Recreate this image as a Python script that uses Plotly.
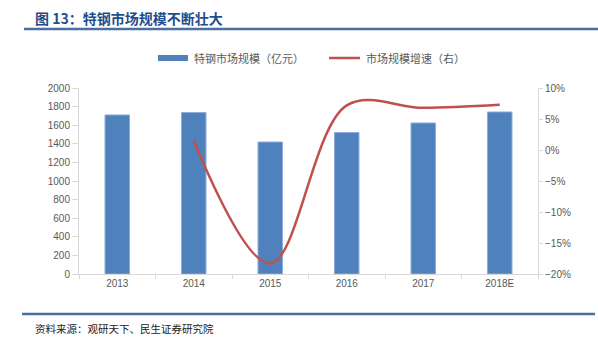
import plotly.graph_objects as go

categories = ["2013", "2014", "2015", "2016", "2017", "2018E"]
market_size = [1710, 1736, 1419, 1521, 1624, 1742]
growth_cats = ["2014", "2015", "2016", "2017", "2018E"]
growth = [0.015, -0.183, 0.072, 0.068, 0.073]

W, H = 598, 337
L, R, T, B = 79, 60, 88, 63
pw, ph = W - L - R, H - T - B

def px(x):
    return (x - L) / pw

def py(y):
    return (H - B - y) / ph

BLUE = "#4F81BD"
RED = "#C0504D"
GRAY = "#595959"
FONT = "Noto Sans CJK SC"

fig = go.Figure()
fig.add_trace(go.Bar(x=categories, y=market_size, marker=dict(color=BLUE, line=dict(color="#8EAADB", width=1)),
                     width=0.32, showlegend=False, yaxis="y"))
fig.add_trace(go.Scatter(x=growth_cats, y=growth, mode="lines", line=dict(color=RED, width=2.5, shape="spline", smoothing=1.0),
                         showlegend=False, yaxis="y2"))

shapes = [
    dict(type="line", xref="paper", yref="paper", x0=px(24), x1=px(598), y0=py(29), y1=py(29),
         line=dict(color="#4A6FA5", width=2.5)),
    dict(type="line", xref="paper", yref="paper", x0=px(22), x1=px(595), y0=py(314), y1=py(314),
         line=dict(color="#4A6FA5", width=2.5)),
    dict(type="rect", xref="paper", yref="paper", x0=px(158), x1=px(188), y0=py(61), y1=py(55),
         fillcolor=BLUE, line=dict(width=0)),
    dict(type="line", xref="paper", yref="paper", x0=px(329), x1=px(360), y0=py(58), y1=py(58),
         line=dict(color=RED, width=2.5)),
]

annotations = [
    dict(text="<b>图 13：特钢市场规模不断壮大</b>", xref="paper", yref="paper", x=px(33), y=py(18),
         xanchor="left", yanchor="middle", showarrow=False, font=dict(family=FONT, size=14, color="#1F4E8C")),
    dict(text="特钢市场规模（亿元）", xref="paper", yref="paper", x=px(192), y=py(58),
         xanchor="left", yanchor="middle", showarrow=False, font=dict(family=FONT, size=11, color=GRAY)),
    dict(text="市场规模增速（右）", xref="paper", yref="paper", x=px(364), y=py(58),
         xanchor="left", yanchor="middle", showarrow=False, font=dict(family=FONT, size=11, color=GRAY)),
    dict(text="资料来源：观研天下、民生证券研究院", xref="paper", yref="paper", x=px(33), y=py(328),
         xanchor="left", yanchor="middle", showarrow=False, font=dict(family=FONT, size=10.5, color="#222222")),
]

fig.update_layout(
    width=W, height=H,
    margin=dict(l=L, r=R, t=T, b=B),
    paper_bgcolor="white", plot_bgcolor="white",
    font=dict(family="Liberation Sans, Arial", size=10, color=GRAY),
    xaxis=dict(type="category", showline=True, linecolor="#D9D9D9", linewidth=1,
               ticks="outside", tickson="boundaries", ticklen=4, tickcolor="#D9D9D9",
               showgrid=False, tickfont=dict(size=10, color=GRAY)),
    yaxis=dict(range=[0, 2000], dtick=200, showline=True, linecolor="#D9D9D9", linewidth=1,
               ticks="outside", ticklen=6, tickcolor="#D9D9D9", showgrid=False, zeroline=False,
               tickfont=dict(size=10, color=GRAY)),
    yaxis2=dict(range=[-0.2, 0.1], dtick=0.05, tickformat=".0%", overlaying="y", side="right",
                showline=True, linecolor="#D9D9D9", linewidth=1, ticks="outside", ticklen=4,
                tickcolor="#D9D9D9", showgrid=False, zeroline=False, tickfont=dict(size=10, color=GRAY)),
    shapes=shapes, annotations=annotations,
)

fig.write_html("out.html")
